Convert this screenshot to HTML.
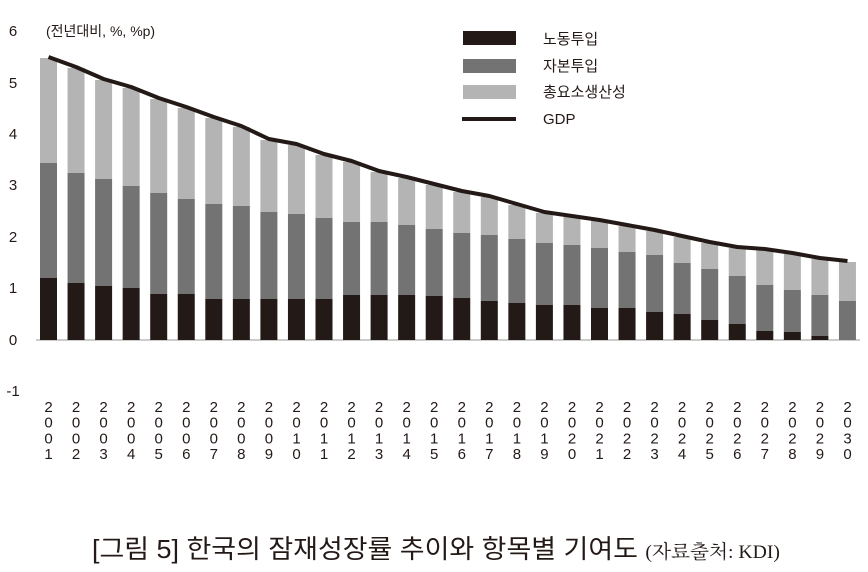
<!DOCTYPE html>
<html><head><meta charset="utf-8"><style>
body{margin:0;background:#fff;}
svg{display:block;}
text{font-family:"Liberation Sans","Noto Sans CJK KR",sans-serif;fill:#231916;}
</style></head><body>
<svg width="868" height="572" viewBox="0 0 868 572" xmlns="http://www.w3.org/2000/svg">
<g font-size="15" text-anchor="middle">
<text x="13" y="36">6</text><text x="13" y="88">5</text><text x="13" y="139">4</text><text x="13" y="190">3</text><text x="13" y="242">2</text><text x="13" y="293">1</text><text x="13" y="345">0</text><text x="13" y="396">-1</text>
</g>
<text x="46" y="36" font-size="14">(전년대비, %, %p)</text>
<line x1="36" y1="340" x2="860" y2="340" stroke="#999" stroke-width="1"/>
<g id="bars"></g>
<g id="lbl" font-size="15" text-anchor="middle"></g>
<polyline id="gdp" fill="none" stroke="#231916" stroke-width="4" stroke-linejoin="round"/>
<rect x="463" y="31" width="53" height="14" fill="#231916"/>
<rect x="463" y="59" width="53" height="14" fill="#737373"/>
<rect x="463" y="85" width="53" height="14" fill="#b4b4b4"/>
<rect x="462" y="117" width="54" height="4" fill="#231916"/>
<g font-size="15"><text x="543" y="44">노동투입</text><text x="543" y="71">자본투입</text><text x="543" y="97">총요소생산성</text><text x="543" y="124">GDP</text></g>
<text x="436" y="558" font-size="26" text-anchor="middle" textLength="688" lengthAdjust="spacingAndGlyphs">[그림 5] 한국의 잠재성장률 추이와 항목별 기여도 <tspan font-size="19" font-family="Liberation Serif, Noto Serif CJK SC, serif">(자료출처: KDI)</tspan></text>
<script>
var L=[278,283,286,288,294,294,299,299,299,299,299,295,295,295,296,298,301,303,305,305,308,308,312,314,320,324,331,332,336,340];
var C=[163,173,179,186,193,199,204,206,212,214,218,222,222,225,229,233,235,239,243,245,248,252,255,263,269,276,285,290,295,301];
var T=[58,68,80,88,99,108,118,127,140,145,155,162,172,178,185,192,197,205,213,217,221,226,231,237,243,248,250,254,259,262];
var ns="http://www.w3.org/2000/svg",b=document.getElementById('bars'),lb=document.getElementById('lbl'),pts=[];
function r(x,y,h,c){var e=document.createElementNS(ns,'rect');e.setAttribute('x',x);e.setAttribute('y',y);e.setAttribute('width',17);e.setAttribute('height',h);e.setAttribute('fill',c);b.appendChild(e);}
for(var i=0;i<30;i++){var x=40+i*27.55;r(x,T[i],C[i]-T[i],'#b4b4b4');r(x,C[i],L[i]-C[i],'#737373');r(x,L[i],340-L[i],'#231916');
pts.push((x+8.5).toFixed(1)+','+(T[i]-1));
var s=String(2001+i);for(var k=0;k<4;k++){var t=document.createElementNS(ns,'text');t.setAttribute('x',(x+8.5).toFixed(1));t.setAttribute('y',412+k*15.7);t.textContent=s[k];lb.appendChild(t);}}
document.getElementById('gdp').setAttribute('points',pts.join(' '));
</script>
</svg>
</body></html>
